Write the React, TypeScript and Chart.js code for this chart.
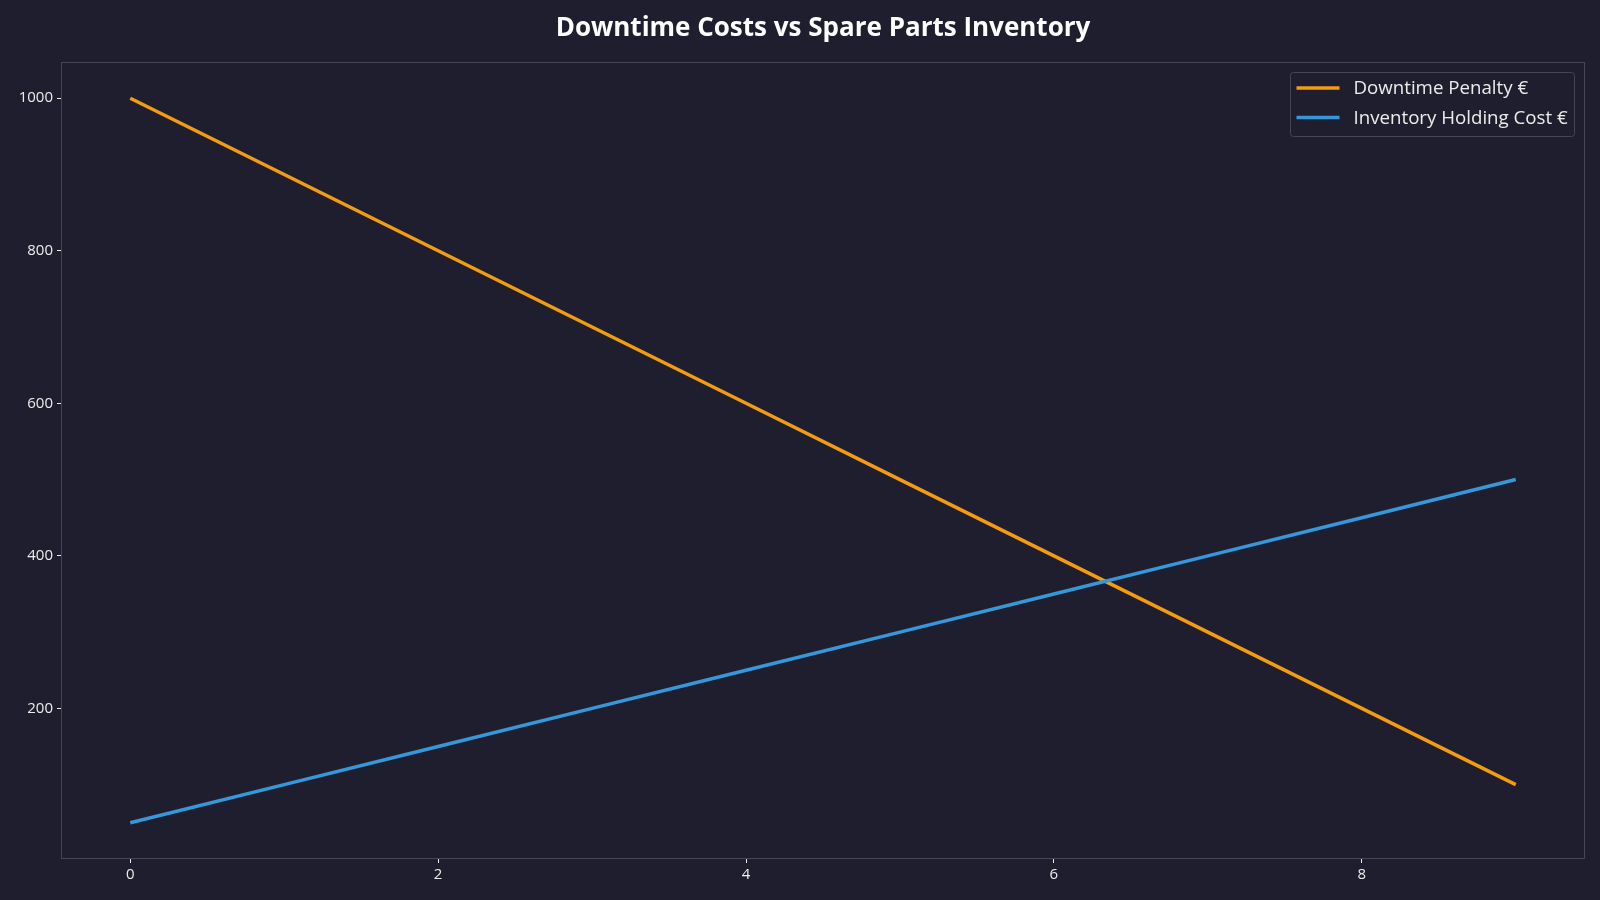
import React, { useEffect, useRef } from "react";
import { Chart, registerables } from "chart.js";

Chart.register(...registerables);

const sparePartsLevels = [0, 1, 2, 3, 4, 5, 6, 7, 8, 9];
const downtimePenalty = [1000, 900, 800, 700, 600, 500, 400, 300, 200, 100];
const inventoryHoldingCost = [50, 100, 150, 200, 250, 300, 350, 400, 450, 500];
const xTickValues = [0, 2, 4, 6, 8];
const yTickValues = [200, 400, 600, 800, 1000];
const seriesLabels = ["Downtime Penalty €", "Inventory Holding Cost €"];
const chartTitle = "Downtime Costs vs Spare Parts Inventory";

const BG = "#1f1e2e";
const SPINE = "#45455a";
const TEXT = "#ececec";
const ORANGE = "#f39c12";
const BLUE = "#3498db";
const FONT = "'Open Sans', 'Noto Sans', sans-serif";

const framePlugin = {
  id: "frameAndDecor",
  beforeDraw(chart: any) {
    const { ctx, width, height } = chart;
    ctx.save();
    ctx.fillStyle = BG;
    ctx.fillRect(0, 0, width, height);
    ctx.restore();
  },
  afterDraw(chart: any) {
    const { ctx, chartArea } = chart;
    ctx.save();
    // spines
    ctx.strokeStyle = SPINE;
    ctx.lineWidth = 1;
    const l = Math.round(chartArea.left) + 0.5;
    const t = Math.round(chartArea.top) + 0.5;
    const r = Math.round(chartArea.right) - 0.5;
    const b = Math.round(chartArea.bottom) - 0.5;
    ctx.strokeRect(l, t, r - l, b - t);

    // title
    ctx.fillStyle = "#ffffff";
    ctx.font = `bold 26px ${FONT}`;
    ctx.textAlign = "center";
    ctx.textBaseline = "middle";
    ctx.fillText(chartTitle, (chartArea.left + chartArea.right) / 2, 29);

    // legend
    const bx = chartArea.right - 10.5 - 284;
    const by = chartArea.top + 10.5;
    const bw = 284;
    const bh = 64;
    ctx.beginPath();
    const rad = 3;
    ctx.moveTo(bx + rad, by);
    ctx.lineTo(bx + bw - rad, by);
    ctx.quadraticCurveTo(bx + bw, by, bx + bw, by + rad);
    ctx.lineTo(bx + bw, by + bh - rad);
    ctx.quadraticCurveTo(bx + bw, by + bh, bx + bw - rad, by + bh);
    ctx.lineTo(bx + rad, by + bh);
    ctx.quadraticCurveTo(bx, by + bh, bx, by + bh - rad);
    ctx.lineTo(bx, by + rad);
    ctx.quadraticCurveTo(bx, by, bx + rad, by);
    ctx.closePath();
    ctx.fillStyle = BG;
    ctx.fill();
    ctx.strokeStyle = SPINE;
    ctx.lineWidth = 1;
    ctx.stroke();

    const colors = [ORANGE, BLUE];
    ctx.font = `18.7px ${FONT}`;
    ctx.textAlign = "left";
    ctx.textBaseline = "middle";
    seriesLabels.forEach((lab, i) => {
      const y = by + 15.5 + i * 29.6;
      ctx.strokeStyle = colors[i];
      ctx.lineWidth = 3.5;
      ctx.beginPath();
      ctx.moveTo(bx + 6, y);
      ctx.lineTo(bx + 49, y);
      ctx.stroke();
      ctx.fillStyle = TEXT;
      ctx.fillText(lab, bx + 63, y + 1);
    });
    ctx.restore();
  },
};

export default function App() {
  const canvasRef = useRef<HTMLCanvasElement | null>(null);

  useEffect(() => {
    document.body.style.margin = "0";
    document.body.style.background = BG;
    const canvas = canvasRef.current;
    if (!canvas) return;

    const chart = new Chart(canvas, {
      type: "line",
      data: {
        datasets: [
          {
            label: seriesLabels[0],
            data: sparePartsLevels.map((x, i) => ({ x, y: downtimePenalty[i] })),
            borderColor: ORANGE,
            backgroundColor: ORANGE,
            borderWidth: 3.5,
            pointRadius: 0,
            tension: 0,
            order: 2,
          },
          {
            label: seriesLabels[1],
            data: sparePartsLevels.map((x, i) => ({ x, y: inventoryHoldingCost[i] })),
            borderColor: BLUE,
            backgroundColor: BLUE,
            borderWidth: 3.5,
            pointRadius: 0,
            tension: 0,
            order: 1,
          },
        ],
      },
      options: {
        responsive: false,
        animation: false,
        events: [],
        layout: { padding: { left: 0, top: 62, right: 15, bottom: 0 } },
        plugins: {
          legend: { display: false },
          title: { display: false },
          tooltip: { enabled: false },
        },
        scales: {
          x: {
            type: "linear",
            min: -0.45,
            max: 9.45,
            afterBuildTicks: (scale: any) => {
              scale.ticks = xTickValues.map((v) => ({ value: v }));
            },
            afterFit: (scale: any) => {
              scale.height = 41;
            },
            border: { display: false },
            grid: {
              drawOnChartArea: false,
              drawTicks: true,
              tickLength: 4,
              tickColor: TEXT,
              tickWidth: 1,
            },
            ticks: {
              color: TEXT,
              font: { family: FONT, size: 15 },
              padding: 3,
              maxRotation: 0,
              autoSkip: false,
              callback: (v: any) => String(v),
            },
          },
          y: {
            type: "linear",
            min: 2.5,
            max: 1047.5,
            afterBuildTicks: (scale: any) => {
              scale.ticks = yTickValues.map((v) => ({ value: v }));
            },
            afterFit: (scale: any) => {
              scale.width = 61;
            },
            border: { display: false },
            grid: {
              drawOnChartArea: false,
              drawTicks: true,
              tickLength: 4,
              tickColor: TEXT,
              tickWidth: 1,
            },
            ticks: {
              color: TEXT,
              font: { family: FONT, size: 15 },
              padding: 4,
              autoSkip: false,
              callback: (v: any) => String(v),
            },
          },
        },
      },
      plugins: [framePlugin],
    });

    return () => chart.destroy();
  }, []);

  return (
    <div style={{ position: "absolute", left: 0, top: 0, width: 1600, height: 900, background: BG }}>
      <canvas ref={canvasRef} width={1600} height={900} style={{ display: "block" }} />
    </div>
  );
}
